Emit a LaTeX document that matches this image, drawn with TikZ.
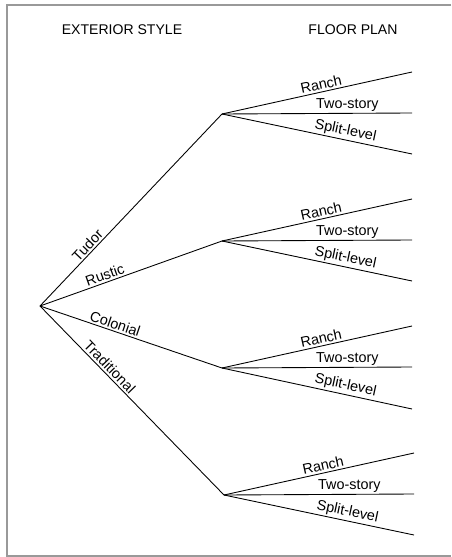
\documentclass[tikz,border=0pt]{standalone}
\usepackage{fontspec}
\setmainfont{Liberation Sans}
\usepackage{tikz}

\tikzset{
    branch/.style={line width=0.5pt},
    lbl/.style={font=\fontsize{8.2}{10}\selectfont, sloped, above, inner sep=1pt},
    heading/.style={font=\fontsize{8}{10}\selectfont}
}

\begin{document}
\begin{tikzpicture}[x=0.02cm,y=-0.02cm]
        \useasboundingbox (0,0) rectangle (451,557);
        \draw[gray!80, line width=0.8pt] (451,5) -- (7,5) -- (7,556) -- (451,556);

        \node[heading] (style) at (122,30) {EXTERIOR STYLE};
        \node[heading] (plan) at (353,30) {FLOOR PLAN};

        \coordinate (root) at (40,306);
        \coordinate (tudor) at (222,114);
        \coordinate (rustic) at (222,241);
        \coordinate (colonial) at (222,368);
        \coordinate (traditional) at (224,495);

        \coordinate (t1) at (412,72);
        \coordinate (t2) at (412,113);
        \coordinate (t3) at (412,154);
        \coordinate (r1) at (412,199);
        \coordinate (r2) at (412,240);
        \coordinate (r3) at (412,281);
        \coordinate (c1) at (412,326);
        \coordinate (c2) at (412,367);
        \coordinate (c3) at (412,409);
        \coordinate (d1) at (414,453);
        \coordinate (d2) at (414,494);
        \coordinate (d3) at (414,535);

        \draw[branch] (root) -- node[lbl, pos=0.29] {Tudor} (tudor);
        \draw[branch] (root) -- node[lbl, pos=0.37] {Rustic} (rustic);
        \draw[branch] (root) -- node[lbl, pos=0.40] {Colonial} (colonial);
        \draw[branch] (root) -- node[lbl, pos=0.35] {Traditional} (traditional);

        \foreach \b/\p in {tudor/t, rustic/r, colonial/c, traditional/d} {
            \draw[branch] (\b) -- node[lbl, pos=0.53] {Ranch} (\p1);
            \draw[branch] (\b) -- node[lbl, pos=0.66] {Two-story} (\p2);
            \draw[branch] (\b) -- node[lbl, pos=0.64] {Split-level} (\p3);
        }
    \end{tikzpicture}
\end{document}
